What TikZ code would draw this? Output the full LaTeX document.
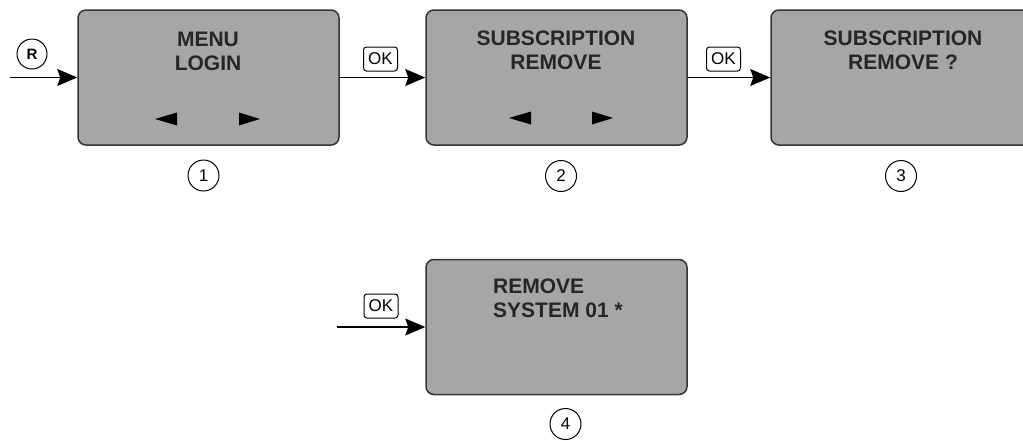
\documentclass[tikz,border=0pt]{standalone}
\usepackage{fontspec}
\setmainfont{Liberation Sans}
\usetikzlibrary{arrows.meta}
\definecolor{screen}{HTML}{A6A6A6}
\definecolor{rim}{HTML}{333333}
\tikzset{
  screenbox/.style={draw=rim, line width=1.5pt, fill=screen, rounded corners=8pt,
    minimum width=261pt, minimum height=135pt, inner sep=0pt},
  screentext/.style={font=\bfseries\fontsize{21}{24}\selectfont, align=center, inner sep=0pt, text=black!85},
  keybox/.style={draw, line width=1pt, rounded corners=3pt, minimum width=34pt, minimum height=24pt,
    inner sep=0pt, font=\fontsize{17}{17}\selectfont},
  stepnum/.style={draw, circle, line width=1pt, minimum size=31pt, inner sep=0pt,
    font=\fontsize{17}{17}\selectfont},
  flow/.style={line width=1.2pt, -{Stealth[length=20pt,width=17pt,inset=3pt]}},
  cursor/.style={fill=black}
}
\begin{document}
\begin{tikzpicture}[x=1pt,y=-1pt]
\useasboundingbox (0,0) rectangle (1023,440);
\clip (0,0) rectangle (1023,440);
% screens
\node[screenbox] (b1) at (208.5,77.5) {};
\node[screenbox] (b2) at (556.5,77.5) {};
\node[screenbox] (b3) at (901.5,77.5) {};
\node[screenbox] (b4) at (556.5,327) {};
% texts
\node[screentext] (t1) at (208,51) {MENU\\LOGIN};
\node[screentext] (t2) at (556,50) {SUBSCRIPTION\\REMOVE};
\node[screentext] (t3) at (903,50.5) {SUBSCRIPTION\\REMOVE ?};
\node[screentext, align=left, anchor=west] (t4) at (493,298.5) {REMOVE\\SYSTEM 01 *};
% cursor triangles
\fill[cursor] (155,119) -- (177,112.5) -- (177,125.5) -- cycle;
\fill[cursor] (260,119) -- (239,112.5) -- (239,125.5) -- cycle;
\fill[cursor] (509,118) -- (531,111.5) -- (531,124.5) -- cycle;
\fill[cursor] (613,118) -- (592,111.5) -- (592,124.5) -- cycle;
% keys
\node[stepnum, minimum size=30pt, font=\bfseries\fontsize{15}{15}\selectfont] (r) at (32,54) {R};
\node[keybox] (k1) at (380.5,59) {OK};
\node[keybox] (k2) at (723.5,59) {OK};
\node[keybox] (k3) at (381,306) {OK};
% step numbers
\node[stepnum] (n1) at (203.5,175.5) {1};
\node[stepnum] (n2) at (561,176) {2};
\node[stepnum] (n3) at (901,176) {3};
\node[stepnum] (n4) at (565.5,424) {4};
% connectors
\coordinate (s1) at (10,77.5);
\coordinate (s4) at (337,327);
\draw[flow] (s1) -- (b1.west);
\draw[flow] (b1.east) -- (b2.west);
\draw[flow] (b2.east) -- (b3.west);
\draw[flow] (s4) -- (b4.west);
\end{tikzpicture}
\end{document}
